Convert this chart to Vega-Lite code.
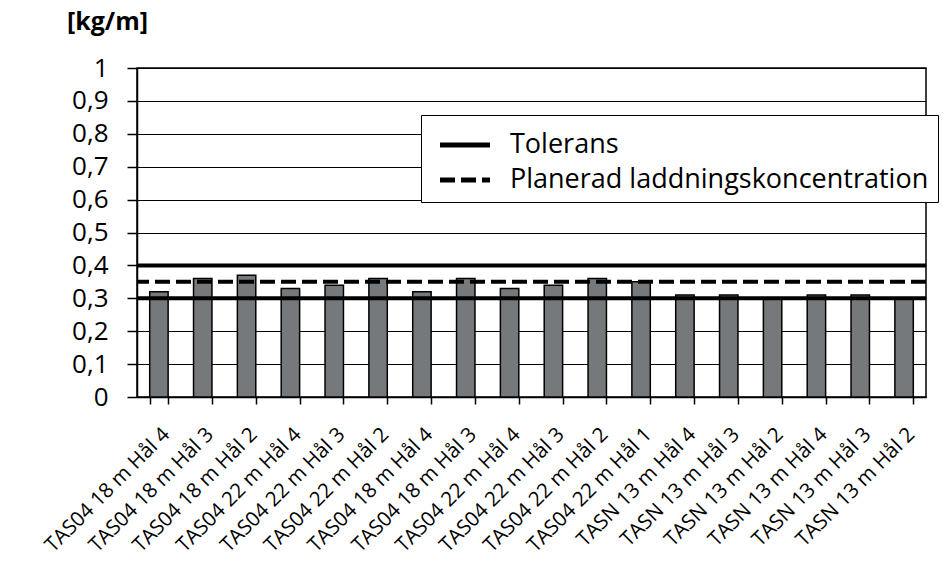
{
  "$schema": "https://vega.github.io/schema/vega-lite/v6.json",
  "width": 789,
  "height": 329,
  "autosize": "none",
  "padding": {"left": 137, "top": 68, "right": 17, "bottom": 168},
  "background": "white",
  "config": {
    "font": "Open Sans",
    "view": {"stroke": "black", "strokeWidth": 1.5}
  },
  "layer": [
    {
      "data": {"values": [
        {"k": "TAS04 18 m Hål 4 ", "v": 0.32},
        {"k": "TAS04 18 m Hål 3 ", "v": 0.36},
        {"k": "TAS04 18 m Hål 2 ", "v": 0.37},
        {"k": "TAS04 22 m Hål 4 ", "v": 0.33},
        {"k": "TAS04 22 m Hål 3 ", "v": 0.34},
        {"k": "TAS04 22 m Hål 2 ", "v": 0.36},
        {"k": "TAS04 18 m Hål 4", "v": 0.32},
        {"k": "TAS04 18 m Hål 3", "v": 0.36},
        {"k": "TAS04 22 m Hål 4", "v": 0.33},
        {"k": "TAS04 22 m Hål 3", "v": 0.34},
        {"k": "TAS04 22 m Hål 2", "v": 0.36},
        {"k": "TAS04 22 m Hål 1", "v": 0.35},
        {"k": "TASN 13 m Hål 4 ", "v": 0.31},
        {"k": "TASN 13 m Hål 3 ", "v": 0.31},
        {"k": "TASN 13 m Hål 2 ", "v": 0.30},
        {"k": "TASN 13 m Hål 4", "v": 0.31},
        {"k": "TASN 13 m Hål 3", "v": 0.31},
        {"k": "TASN 13 m Hål 2", "v": 0.30}
      ]},
      "mark": {"type": "bar", "color": "#76797b", "stroke": "black", "strokeWidth": 1.5},
      "encoding": {
        "x": {
          "field": "k", "type": "nominal", "sort": null,
          "scale": {"paddingInner": 0.58, "paddingOuter": 0.29},
          "axis": {
            "title": null, "labelAngle": -45, "labelAlign": "right", "labelBaseline": "top",
            "labelFontSize": 20.5, "labelColor": "black", "labelPadding": 20, "labelOffset": 0,
            "labelLimit": 400,
            "tickBand": "extent", "tickColor": "black", "tickSize": 7, "tickWidth": 1.5,
            "domainColor": "black", "domainWidth": 1.5, "grid": false, "labelOverlap": false,
            "labelExpr": "trim(datum.label)"
          }
        },
        "y": {
          "field": "v", "type": "quantitative",
          "scale": {"domain": [0, 1], "nice": false},
          "axis": {
            "title": "[kg/m]", "titleAngle": 0, "titleX": -30, "titleY": -39, "titleAlign": "center",
            "titleBaseline": "alphabetic", "titleFontSize": 25, "titleFontWeight": "bold", "titleColor": "black",
            "values": [0, 0.1, 0.2, 0.3, 0.4, 0.5, 0.6, 0.7, 0.8, 0.9, 1],
            "tickCount": 11, "labelOverlap": false, "labelBound": false, "labelFlush": false,
            "labelExpr": "replace(toString(round(datum.value*10)/10), '.', ',')",
            "labelFontSize": 26, "labelColor": "black", "labelPadding": 19,
            "tickColor": "black", "tickSize": 10, "tickWidth": 1.5,
            "domainColor": "black", "domainWidth": 1.5,
            "grid": true, "gridColor": "black", "gridWidth": 1.2, "gridOpacity": 1
          }
        }
      }
    },
    {
      "data": {"values": [
        {"serie": "Tolerans", "y": 0.4},
        {"serie": "Tolerans", "y": 0.3},
        {"serie": "Planerad laddningskoncentration", "y": 0.35}
      ]},
      "mark": {"type": "rule", "color": "black", "strokeWidth": 4},
      "encoding": {
        "y": {"field": "y", "type": "quantitative"},
        "strokeDash": {
          "field": "serie", "type": "nominal",
          "scale": {"domain": ["Tolerans", "Planerad laddningskoncentration"], "range": [[1, 0], [15, 6]]},
          "legend": {
            "title": null, "orient": "none", "legendX": 284, "legendY": 47,
            "symbolType": "M-0.594,0H2.108", "symbolSize": 1369, "symbolStrokeWidth": 5, "symbolStrokeColor": "black",
            "labelFontSize": 27, "labelColor": "black", "labelOffset": 38, "rowPadding": 1,
            "padding": 9, "strokeColor": "black", "fillColor": "white",
            "labelLimit": 700
          }
        }
      }
    }
  ]
}
